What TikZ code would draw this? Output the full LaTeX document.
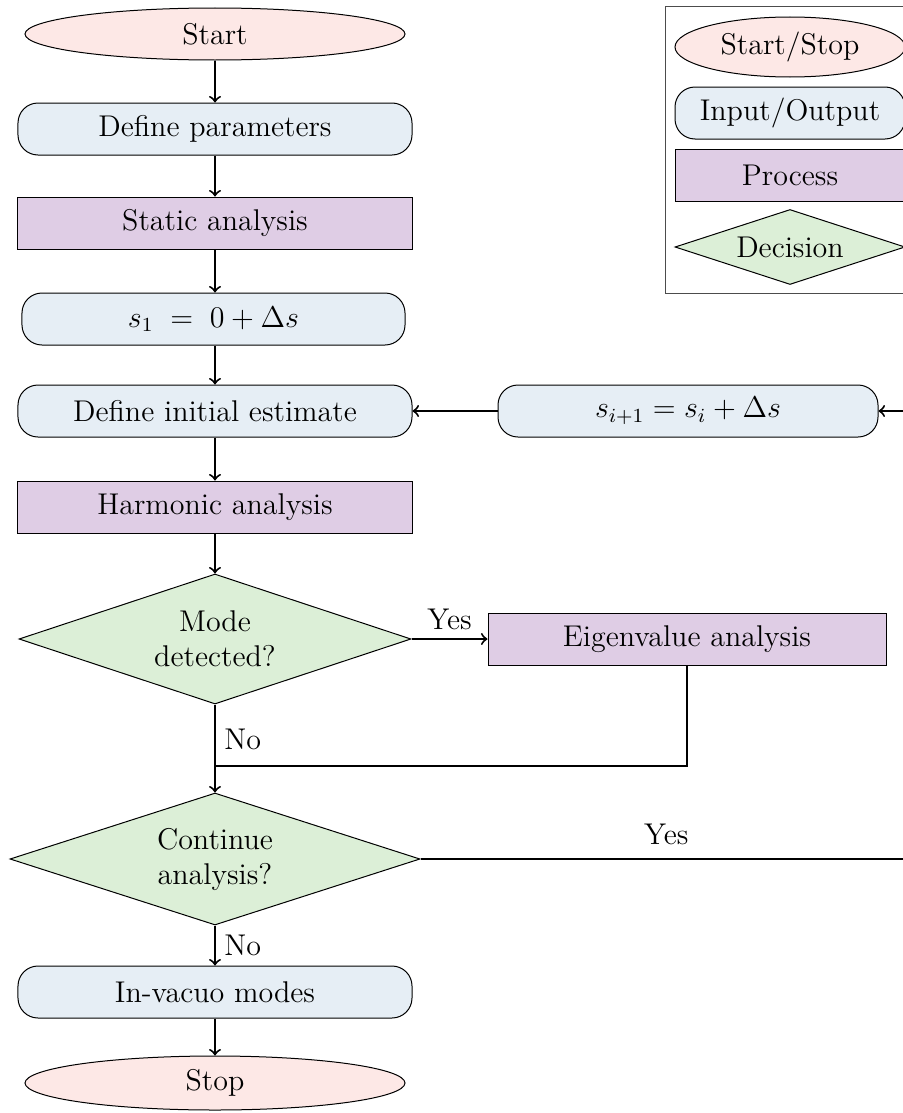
\documentclass[tikz,border=0pt]{standalone}
\usetikzlibrary{shapes.geometric,arrows.meta}
\definecolor{startc}{RGB}{253,232,230}
\definecolor{ioc}{RGB}{230,238,245}
\definecolor{procc}{RGB}{223,205,229}
\definecolor{decc}{RGB}{220,239,215}
\tikzset{
  base/.style={draw=black, line width=0.4pt, inner sep=0pt, align=center},
  startstop/.style={base, ellipse, fill=startc, minimum width=152pt, minimum height=20.8pt},
  io/.style={base, rectangle, rounded corners=8pt, fill=ioc, minimum width=157.6pt, minimum height=20.8pt},
  proc/.style={base, rectangle, fill=procc, minimum width=157.6pt, minimum height=20.8pt},
  decision/.style={base, diamond, aspect=3, fill=decc, minimum width=156.8pt, minimum height=52pt},
  conn/.style={line width=0.8pt, ->, >=to},
  line/.style={line width=0.8pt}
}
\begin{document}
\begin{tikzpicture}[x=0.4pt, y=-0.4pt, font=\fontsize{12}{14}\selectfont]
\useasboundingbox (0,0) rectangle (902,1113);
% main flow
\node[startstop] (start) at (215,34) {Start};
\node[io] (defp) at (215,129) {Define parameters};
\node[proc] (static) at (215,223) {Static analysis};
\node[io, minimum width=153.2pt] (s1) at (213.5,319) {$s_1 \;=\; 0 + \Delta s$};
\node[io] (init) at (215,411) {Define initial estimate};
\node[io, minimum width=152pt] (sip) at (688,411) {$s_{i+1} = s_i + \Delta s$};
\node[proc] (harm) at (215,507) {Harmonic analysis};
\node[decision] (mode) at (215,639) {Mode\\detected?};
\node[proc, minimum width=159.2pt] (eig) at (687,639) {Eigenvalue analysis};
\node[decision, minimum width=164pt, minimum height=52.8pt] (cont) at (215,859) {Continue\\analysis?};
\node[io] (invac) at (215,992) {In-vacuo modes};
\node[startstop, minimum height=21.6pt] (stop) at (215,1083) {Stop};
% legend
\node[draw=black!70, line width=0.4pt, minimum width=102pt, minimum height=114.4pt, inner sep=0pt] (legbox) at (792.5,150) {};
\node[startstop, minimum width=92pt, minimum height=24pt] (lss) at (790,47) {Start/Stop};
\node[io, minimum width=92pt] (lio) at (790,113) {Input/Output};
\node[proc, minimum width=92pt] (lpr) at (790,175) {Process};
\node[decision, minimum width=92pt, minimum height=30pt] (ldec) at (790,247) {Decision};
% connectors
\coordinate (join) at (215,766);
\coordinate (rc) at (912,859);
\draw[conn] (start) -- (defp);
\draw[conn] (defp) -- (static);
\draw[conn] (static.south) -- (static.south |- s1.north);
\draw[conn] (init.north |- s1.south) -- (init.north);
\draw[conn] (init) -- (harm);
\draw[conn] (harm) -- (mode);
\draw[conn] (sip.west) -- (init.east);
\draw[conn] (mode.east) -- node[above]{Yes} (eig.west);
\draw[line] (eig.south) |- (join);
\draw[conn] (mode.south) -- node[right, pos=0.4]{No} (cont.north);
\draw[conn] (cont.east) -- node[above, yshift=2pt]{Yes} (rc) |- (sip.east);
\draw[conn] (cont.south) -- node[right]{No} (invac.north);
\draw[conn] (invac) -- (stop);
\end{tikzpicture}
\end{document}
